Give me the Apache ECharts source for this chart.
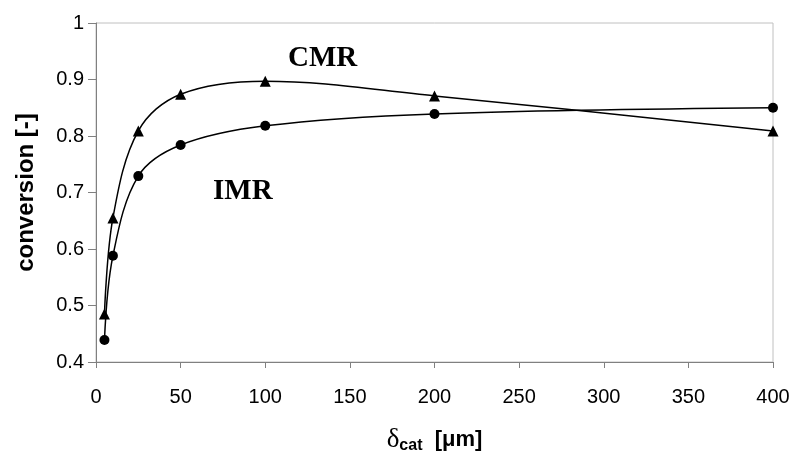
<!DOCTYPE html>
<html>
<head>
<meta charset="utf-8">
<script src="https://cdn.jsdelivr.net/npm/echarts@6/dist/echarts.min.js"></script>
<style>html,body{margin:0;padding:0;background:#fff}#c{width:794px;height:455px}</style>
</head>
<body>
<div id="c"></div>
<script>
var thickness = [5, 10, 25, 50, 100, 200, 400];
var cmr = [0.485, 0.655, 0.809, 0.874, 0.897, 0.871, 0.809];
var imr = [0.439, 0.588, 0.729, 0.784, 0.818, 0.839, 0.850];
var xTicks = [0, 50, 100, 150, 200, 250, 300, 350, 400];
var yTicks = [0.4, 0.5, 0.6, 0.7, 0.8, 0.9, 1];

function pairs(xs, ys) { return xs.map(function (x, i) { return [x, ys[i]]; }); }

var chart = echarts.init(document.getElementById('c'));
chart.setOption({
  animation: false,
  backgroundColor: '#fff',
  grid: { left: 96, right: 21, top: 23, bottom: 93, outerBoundsMode: 'none', containLabel: false,
    show: true, borderColor: '#c0c0c0', borderWidth: 1, backgroundColor: 'transparent' },
  xAxis: {
    type: 'value', min: xTicks[0], max: xTicks[xTicks.length - 1], interval: 50,
    axisLine: { show: true, lineStyle: { color: '#808080', width: 1 } },
    axisTick: { show: true, length: 6, lineStyle: { color: '#808080' } },
    splitLine: { show: false },
    axisLabel: { color: '#000', fontFamily: 'Liberation Sans', fontSize: 20, margin: 25 },
    name: '{d|δ}{s|cat}{b|  [μm]}',
    nameLocation: 'middle', nameGap: 64,
    nameTextStyle: {
      rich: {
        d: { fontFamily: 'Liberation Serif', fontSize: 27, color: '#000' },
        s: { fontFamily: 'Liberation Sans', fontWeight: 'bold', fontSize: 16, color: '#000', verticalAlign: 'bottom', padding: [12, 0, 0, 0] },
        b: { fontFamily: 'Liberation Sans', fontWeight: 'bold', fontSize: 22, color: '#000' }
      }
    }
  },
  yAxis: {
    type: 'value', min: yTicks[0], max: yTicks[yTicks.length - 1], interval: 0.1,
    axisLine: { show: true, lineStyle: { color: '#808080', width: 1 } },
    axisTick: { show: true, length: 8, lineStyle: { color: '#808080' } },
    splitLine: { show: false },
    axisLabel: { color: '#000', fontFamily: 'Liberation Sans', fontSize: 20, margin: 12,
      formatter: function (v) { return v === 1 ? '1' : v.toFixed(1); } },
    name: 'conversion [-]',
    nameLocation: 'middle', nameGap: 58,
    nameTextStyle: { fontFamily: 'Liberation Sans', fontWeight: 'bold', fontSize: 24, color: '#000' }
  },
  series: [
    {
      name: 'CMR', type: 'line', data: pairs(thickness, cmr), smooth: 0.35,
      symbol: 'triangle', symbolSize: 11,
      lineStyle: { color: '#000', width: 1.5 },
      itemStyle: { color: '#000' }
    },
    {
      name: 'IMR', type: 'line', data: pairs(thickness, imr), smooth: 0.35,
      symbol: 'circle', symbolSize: 10,
      lineStyle: { color: '#000', width: 1.5 },
      itemStyle: { color: '#000' }
    }
  ],
  graphic: [
    { type: 'text', left: 288, top: 44, style: { text: 'CMR', font: 'bold 29px "Liberation Serif"', fill: '#000' } },
    { type: 'text', left: 213, top: 177, style: { text: 'IMR', font: 'bold 29px "Liberation Serif"', fill: '#000' } }
  ]
});
</script>
</body>
</html>
